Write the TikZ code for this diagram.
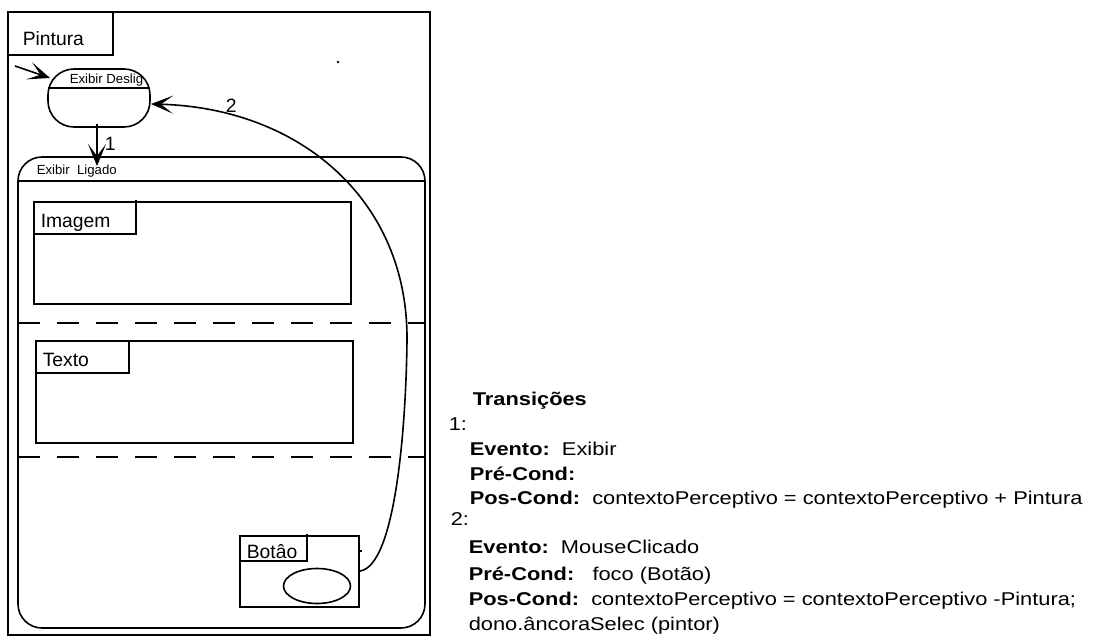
\documentclass[tikz,border=0pt]{standalone}
\usepackage{fontspec}
\setmainfont{Liberation Sans}
\newfontfamily\widefont[FakeStretch=1.18]{Liberation Sans}
\usetikzlibrary{arrows.meta,shapes.geometric}
\begin{document}
\begin{tikzpicture}[x=1pt,y=-1pt,line width=1.6pt,
  lbl/.style={anchor=base west,inner sep=0pt,font=\fontsize{19.3}{22}\selectfont},
  small/.style={anchor=base west,inner sep=0pt,font=\fontsize{13.2}{15}\selectfont},
  tr/.style={anchor=base west,inner sep=0pt,font=\widefont\fontsize{18.5}{21}\selectfont},
  head/.style={-{Stealth[length=22pt,width=18pt,inset=12pt]}},
  sep/.style={dash pattern=on 22pt off 17pt}]
\useasboundingbox (0,0) rectangle (1094,644);
% outer Pintura
\draw (8,12) rectangle (430,635);
\draw (8,12) rectangle (113,55);
\node[lbl] (pint) at (22,46) {Pintura};
\fill (338,62) circle (1.3pt);
% Exibir Deslig
\draw[rounded corners=26pt] (48,69) rectangle (150,127);
\coordinate (desS) at (97,124);
\coordinate (desW) at (50,78);
\coordinate (desE) at (151,104);
\draw (48,88) -- (150,88);
\node[small] (des) at (69,84) {Exibir Deslig};
\coordinate (init) at (15,66);
\draw[head] (init) -- (desW);
% Exibir Ligado
\draw[rounded corners=24pt] (18,157) rectangle (425,628);
\draw (18,181) -- (425,181);
\node[small] (lig) at (36,175) {Exibir\ \ Ligado};
\coordinate (ligN) at (97,166);
\draw[head] (desS) -- (ligN);
\node[lbl] (one) at (104,151) {1};
% Imagem
\draw (34,202) rectangle (351,304);
\draw (34,234) -- (136,234) -- (136,200);
\node[lbl] (img) at (40,228) {Imagem};
\draw[sep] (18,323) -- (425,323);
% Texto
\draw (36,341) rectangle (353,443);
\draw (36,373) -- (129,373) -- (129,341);
\node[lbl] (txt) at (42,366) {Texto};
\draw[sep] (18,457) -- (425,457);
% Botao
\draw (240,536) rectangle (359,607);
\draw (239,561) -- (307,561) -- (307,534);
\node[lbl] (bot) at (246,558) {Botâo};
\draw (359,551) -- (362,551);
\node[draw,ellipse,minimum width=67pt,minimum height=35pt,inner sep=0pt] (btn) at (317,586) {};
\coordinate (botE) at (360,571);
% transition 2
\draw[head] (botE) .. controls (395,566) and (406,430) .. (407,340)
  .. controls (408,200) and (300,108) .. (desE);
\node[lbl] (two) at (225,113) {2};
% Transitions text
\node[tr] (t0) at (472,405) {\textbf{Transições}};
\node[tr] (t1) at (448,430) {1:};
\node[tr] (t2) at (469,455) {\textbf{Evento:}\ \ Exibir};
\node[tr] (t3) at (469,480) {\textbf{Pré-Cond:}};
\node[tr] (t4) at (469,504) {\textbf{Pos-Cond:}\ \ contextoPerceptivo = contextoPerceptivo + Pintura};
\node[tr] (t5) at (450,525) {2:};
\node[tr] (t6) at (468,553) {\textbf{Evento:}\ \ MouseClicado};
\node[tr] (t7) at (468,580) {\textbf{Pré-Cond:}\ \ \ foco (Botão)};
\node[tr] (t8) at (468,605) {\textbf{Pos-Cond:}\ \ contextoPerceptivo = contextoPerceptivo -Pintura;};
\node[tr] (t9) at (468,630) {dono.âncoraSelec (pintor)};
\end{tikzpicture}
\end{document}
